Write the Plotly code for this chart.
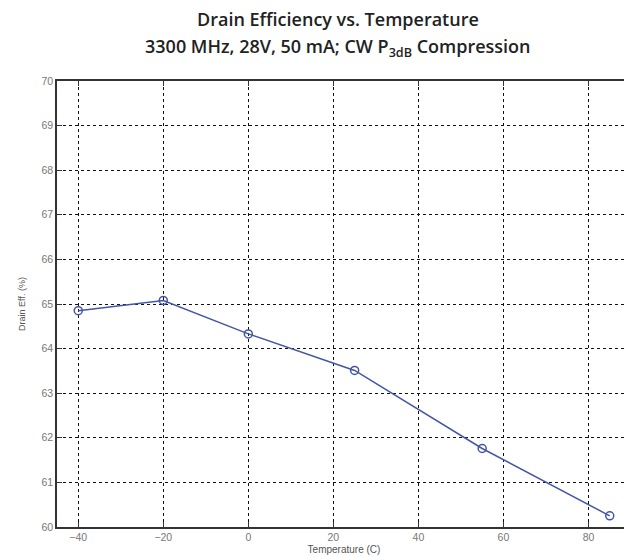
import plotly.graph_objects as go

temperature = [-40, -20, 0, 25, 55, 85]
drain_eff = [64.85, 65.08, 64.33, 63.51, 61.76, 60.25]

x_ticks = [-40, -20, 0, 20, 40, 60, 80]
y_ticks = [60, 61, 62, 63, 64, 65, 66, 67, 68, 69, 70]

title_line1 = "Drain Efficiency vs. Temperature"
title_line2 = "3300 MHz, 28V, 50 mA; CW P<sub>3dB</sub> Compression"

fig = go.Figure()
fig.add_trace(go.Scatter(
    x=temperature, y=drain_eff, mode="lines+markers",
    line=dict(color="#4356a8", width=1.5),
    marker=dict(symbol="circle-open", size=8, color="#4356a8", line=dict(width=1.5)),
    showlegend=False,
))

axis_common = dict(
    showline=True, linecolor="#333", linewidth=1.5, mirror="ticks",
    ticks="inside", ticklen=5, tickcolor="#333",
    showgrid=True, gridcolor="#111", griddash="dot", gridwidth=1.2,
    zeroline=False,
    tickfont=dict(family="Liberation Sans, Arial", size=10.5, color="#777"),
)

title_font = dict(family="Open Sans", size=18, color="#222", weight=600)

fig.update_layout(
    width=632, height=557,
    paper_bgcolor="white", plot_bgcolor="white",
    margin=dict(l=49, r=7, t=73, b=38),
    xaxis=dict(range=[-45, 90], tickvals=x_ticks,
               title=dict(text="Temperature (C)", standoff=4,
                          font=dict(family="Liberation Sans, Arial", size=10, color="#555")),
               **axis_common),
    yaxis=dict(range=[60, 70], tickvals=y_ticks,
               title=dict(text="Drain Eff. (%)", standoff=14,
                          font=dict(family="Liberation Sans, Arial", size=9, color="#555")),
               **axis_common),
    annotations=[
        dict(text=title_line1, xref="paper", yref="paper", x=0.49, y=1.138,
             xanchor="center", yanchor="middle", showarrow=False, font=title_font),
        dict(text=title_line2, xref="paper", yref="paper", x=0.49, y=1.074,
             xanchor="center", yanchor="middle", showarrow=False, font=title_font),
    ],
)

fig.write_html("out.html")
